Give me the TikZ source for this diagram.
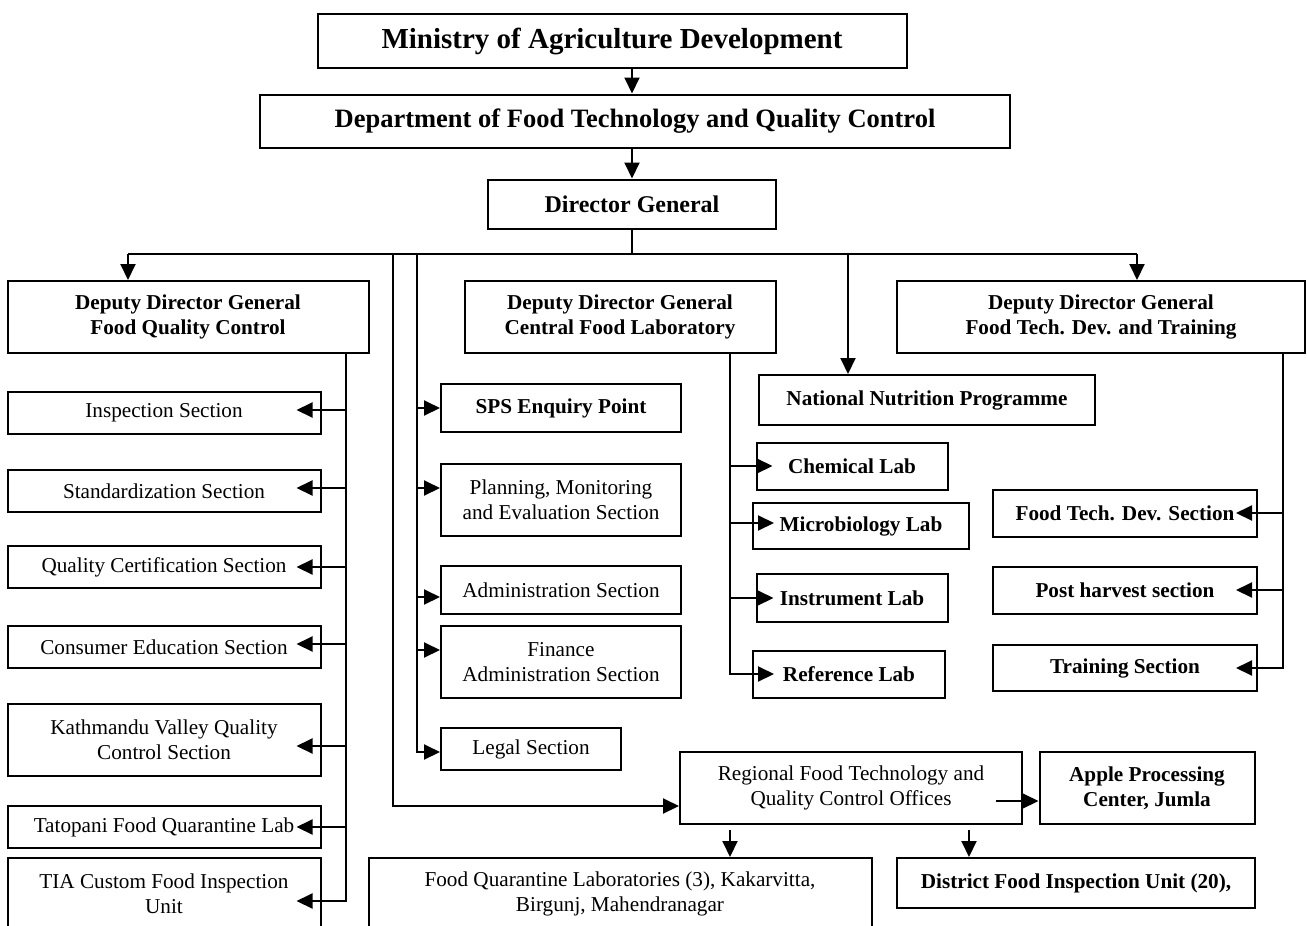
\documentclass[tikz,border=0pt]{standalone}
\usepackage{fontspec}
\setmainfont{Liberation Serif}
\usepackage{tikz}
\usetikzlibrary{arrows.meta,calc}
\tikzset{
  box/.style={rectangle,draw,line width=2pt,align=center,inner sep=0pt,
    font=\fontsize{21.2}{25}\selectfont},
  bbox/.style={box,font=\fontsize{21.2}{25}\selectfont\bfseries},
  sect/.style={box,minimum width=313pt,minimum height=42pt},
  link/.style={line width=2pt},
  arr/.style={link,-{Triangle[length=16pt,width=15pt]}},
}

\begin{document}
\begin{tikzpicture}[x=1pt,y=-1pt]
\useasboundingbox (0,0) rectangle (1307,926);
\clip (0,0) rectangle (1307,926);

% top of the chart
\draw (612,41) node[bbox,minimum width=589pt,minimum height=54pt,font=\fontsize{29}{34}\selectfont\bfseries] (ministry) {Ministry of Agriculture Development};
\draw (635,121) node[bbox,minimum width=750pt,minimum height=53pt,font=\fontsize{26.5}{31}\selectfont\bfseries] (dept) {Department of Food Technology and Quality Control};
\draw (632,204) node[bbox,minimum width=288pt,minimum height=49pt,font=\fontsize{24}{28}\selectfont\bfseries] (dg) {Director General};

\draw (188,317) node[bbox,minimum width=361pt,minimum height=72pt] (ddgqc) {Deputy Director General\\Food Quality Control};
\draw (620,317) node[bbox,minimum width=311pt,minimum height=72pt] (ddgcfl) {Deputy Director General\\Central Food Laboratory};
\draw (1101,317) node[bbox,minimum width=408pt,minimum height=72pt] (ddgftd) {Deputy Director General\\Food Tech. Dev. and Training};

% food quality control sections
\draw (164,413) node[sect] (insp) {Inspection Section};
\draw (164,491) node[sect] (stand) {Standardization Section};
\draw (164,567) node[sect] (qcert) {Quality Certification Section};
\draw (164,647) node[sect] (cons) {Consumer Education Section};
\draw (164,740) node[sect,minimum height=72pt] (ktm) {Kathmandu Valley Quality\\Control Section};
\draw (164,827) node[sect] (tato) {Tatopani Food Quarantine Lab};
\draw (164,894) node[sect,minimum height=72pt] (tia) {TIA Custom Food Inspection\\Unit};

% sections under the director general
\draw (561,408) node[bbox,minimum width=240pt,minimum height=48pt] (sps) {SPS Enquiry Point};
\draw (561,500) node[box,minimum width=240pt,minimum height=72pt] (plan) {Planning, Monitoring\\and Evaluation Section};
\draw (561,590) node[box,minimum width=240pt,minimum height=48pt] (admin) {Administration Section};
\draw (561,662) node[box,minimum width=240pt,minimum height=72pt] (fin) {Finance\\Administration Section};
\draw (531,749) node[box,minimum width=180pt,minimum height=42pt] (legal) {Legal Section};

% labs
\draw (927,400) node[bbox,minimum width=336pt,minimum height=50pt] (nnp) {National Nutrition Programme};
\draw (852,466) node[bbox,minimum width=191pt,minimum height=47pt] (chem) {Chemical Lab};
\draw (861,526) node[bbox,minimum width=216pt,minimum height=46pt] (micro) {Microbiology Lab};
\draw (852,598) node[bbox,minimum width=191pt,minimum height=48pt] (instr) {Instrument Lab};
\draw (849,674) node[bbox,minimum width=192pt,minimum height=47pt] (ref) {Reference Lab};

% food tech. sections
\draw (1125,513) node[bbox,minimum width=264pt,minimum height=47pt] (ftds) {Food Tech. Dev. Section};
\draw (1125,590) node[bbox,minimum width=264pt,minimum height=47pt] (post) {Post harvest section};
\draw (1125,668) node[bbox,minimum width=264pt,minimum height=46pt] (train) {Training Section};

% regional offices
\draw (851,788) node[box,minimum width=342pt,minimum height=72pt] (reg) {Regional Food Technology and\\Quality Control Offices};
\draw (1147,788) node[bbox,minimum width=215pt,minimum height=72pt] (apple) {Apple Processing\\Center, Jumla};
\draw (620,894) node[box,minimum width=503pt,minimum height=72pt] (fql) {Food Quarantine Laboratories (3), Kakarvitta,\\Birgunj, Mahendranagar};
\draw (1076,883) node[bbox,minimum width=358pt,minimum height=50pt] (dfiu) {District Food Inspection Unit (20),};

\draw[arr] (ministry.south -| dg) -- (dept.north -| dg);
\draw[arr] (dept.south -| dg) -- (dg);

\coordinate (bus) at (632,254);
\coordinate (busl) at (128,254);
\coordinate (busr) at (1137,254);
\coordinate (busn) at (848,254);
\coordinate (trunkreg) at (393,254);
\coordinate (trunkdg) at (417,254);
\draw[link] (dg) -- (dg |- bus);
\draw[link] (busl) -- (busr);
\draw[arr] (busl) -- (busl |- ddgqc.north);
\draw[arr] (busr) -- (busr |- ddgftd.north);
\draw[arr] (busn) -- (busn |- nnp.north);

\draw[arr] (trunkreg) |- ([yshift=-18pt]reg.west);
\draw[arr] (trunkdg) |- (sps.west);
\draw[arr] (trunkdg) |- ([yshift=12pt]plan.west);
\draw[arr] (trunkdg) |- ([yshift=-7pt]admin.west);
\draw[arr] (trunkdg) |- ([yshift=12pt]fin.west);
\draw[arr] (trunkdg) |- ([yshift=-3pt]legal.west);

\coordinate (trunkqc) at ([xshift=-24pt]ddgqc.south east);
\draw[arr,shorten >=-25pt] (trunkqc) |- ([yshift=3pt]insp.east);
\draw[arr,shorten >=-25pt] (trunkqc) |- ([yshift=3pt]stand.east);
\draw[arr,shorten >=-25pt] (trunkqc) |- (qcert.east);
\draw[arr,shorten >=-25pt] (trunkqc) |- ([yshift=3pt]cons.east);
\draw[arr,shorten >=-25pt] (trunkqc) |- ([yshift=-6pt]ktm.east);
\draw[arr,shorten >=-25pt] (trunkqc) |- (tato.east);
\draw[arr,shorten >=-25pt] (trunkqc) |- ([yshift=-7pt]tia.east);

\coordinate (trunkcfl) at ([xshift=-47pt]ddgcfl.south east);
\draw[arr,shorten >=-17pt] (trunkcfl) |- (chem.west);
\draw[arr,shorten >=-22pt] (trunkcfl) |- ([yshift=3pt]micro.west);
\draw[arr,shorten >=-18pt] (trunkcfl) |- (instr.west);
\draw[arr,shorten >=-22pt] (trunkcfl) |- (ref.west);

\coordinate (trunkftd) at ([xshift=-23pt]ddgftd.south east);
\draw[arr,shorten >=-22pt] (trunkftd) |- (ftds.east);
\draw[arr,shorten >=-22pt] (trunkftd) |- (post.east);
\draw[arr,shorten >=-22pt] (trunkftd) |- (train.east);

\draw[arr] ([xshift=-27pt,yshift=-13pt]reg.east) -- ([yshift=-13pt]apple.west);
\coordinate (regl) at ($(reg.south west)+(51,5)$);
\coordinate (regr) at ($(reg.south east)+(-54,5)$);
\draw[arr] (regl) -- (regl |- fql.north);
\draw[arr] (regr) -- (regr |- dfiu.north);
\end{tikzpicture}
\end{document}
